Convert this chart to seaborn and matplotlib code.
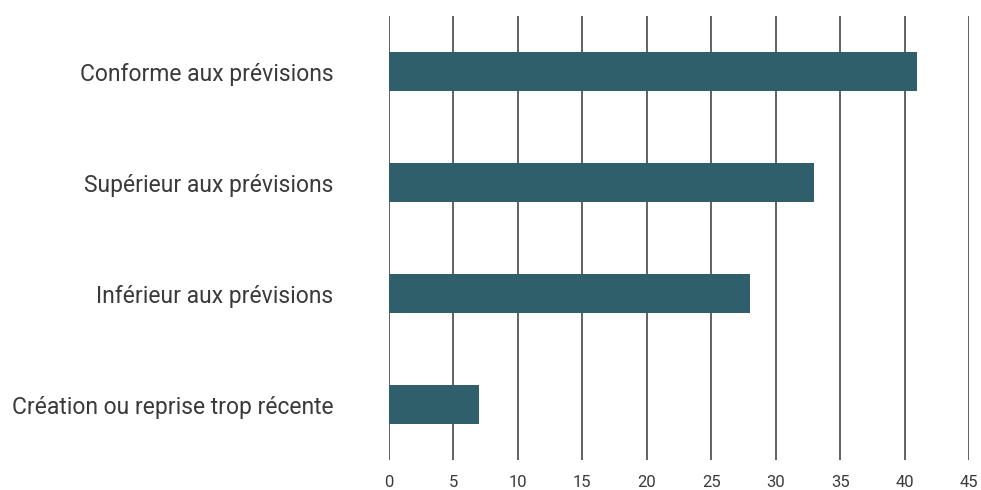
import pandas as pd
import seaborn as sns
import matplotlib.pyplot as plt

# donnees
categories = ['Conforme aux prévisions', 'Supérieur aux prévisions',
              'Inférieur aux prévisions', 'Création ou reprise trop récente']
valeurs = [41, 33, 28, 7]
graduations = [0, 5, 10, 15, 20, 25, 30, 35, 40, 45]

df = pd.DataFrame({'categorie': categories, 'valeur': valeurs})

sns.set_style('white')
plt.rcParams['font.family'] = ['Roboto', 'DejaVu Sans']

fig = plt.figure(figsize=(9.81, 4.9), dpi=100)
ax = fig.add_axes([389 / 981, 1 - 460 / 490, 580 / 981, 444 / 490])

# grille verticale sous les barres
for g in graduations:
    ax.axvline(g, color='#555555', lw=1.3, zorder=0)

sns.barplot(data=df, x='valeur', y='categorie', orient='h', color='#2f5f6b',
            saturation=1, width=0.36, linewidth=0, ax=ax, zorder=2)

ax.set_xlim(0, 45)
ax.set_ylim(3.5, -0.5)
ax.set_xticks(graduations)
ax.set_xlabel('')
ax.set_ylabel('')
for s in ax.spines.values():
    s.set_visible(False)
ax.tick_params(axis='x', length=0, pad=11, labelsize=12, labelcolor='#3a3a3a')
ax.tick_params(axis='y', length=0, pad=40, labelsize=16.5, labelcolor='#3a3a3a')

fig.savefig('out.png', dpi=100)
